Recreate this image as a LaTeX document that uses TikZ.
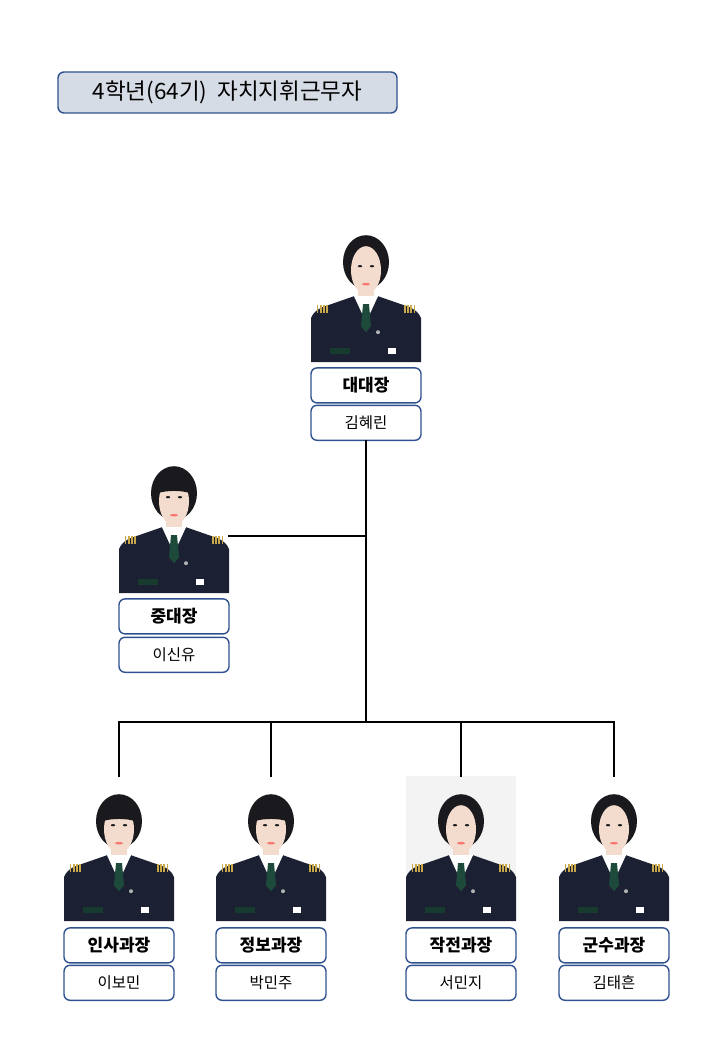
\documentclass[tikz,border=0pt]{standalone}
\usepackage{fontspec}
\setmainfont{Noto Sans CJK KR}
\usetikzlibrary{positioning}
\definecolor{boxline}{HTML}{2F528F}
\definecolor{titlefill}{HTML}{D6DCE5}
\definecolor{navy}{HTML}{1C2033}
\definecolor{skin}{HTML}{F3DCCD}
\definecolor{hair}{HTML}{1A1A1E}
\definecolor{tiegreen}{HTML}{1E4A3C}
\definecolor{braid}{HTML}{C9A94A}
\definecolor{bggray}{HTML}{F3F3F3}
\tikzset{
  titlebox/.style={draw=boxline, line width=1.4pt, rounded corners=6pt, fill=titlefill,
    minimum width=339pt, minimum height=41pt, inner sep=0pt, font=\fontsize{22.5}{26}\selectfont},
  rolebox/.style={draw=boxline, line width=1.4pt, rounded corners=6pt, fill=white,
    minimum width=110pt, minimum height=35pt, inner sep=0pt, font=\fontsize{17}{20}\selectfont\bfseries},
  namebox/.style={rolebox, font=\fontsize{15.5}{19}\selectfont},
  photo/.style={minimum width=110pt, minimum height=136pt, inner sep=0pt},
  link/.style={line width=2pt},
  cadet/.pic={
    % uniform
    \fill[navy] (-55,0) -- (-55,-44) .. controls (-52,-52) and (-45,-55) .. (-35,-58)
      -- (-12,-66) -- (12,-66) -- (35,-58) .. controls (45,-55) and (52,-52) .. (55,-44) -- (55,0) -- cycle;
    \fill[skin] (-8,-74) rectangle (8,-62);
    \fill[white] (-12,-66) -- (0,-40) -- (12,-66) -- cycle;
    \fill[tiegreen] (-3,-58) -- (3,-58) -- (5,-36) -- (0,-30) -- (-5,-36) -- cycle;
    \foreach \s in {-1,1}
      \foreach \i in {0,...,3}
        \fill[braid] ({\s*(38+3.2*\i)},-57) rectangle ++(\s*1.8,8);
    \fill[tiegreen!80!black] (-36,-14) rectangle (-16,-8);
    \fill[white] (22,-14) rectangle (30,-8);
    \fill[gray!60] (12,-30) circle (2);
    % head
    \fill[hair] (0,-100) ellipse [x radius=23, y radius=27];
    \fill[skin] (0,-92) ellipse [x radius=15, y radius=24];
    \fill[hair] (-6,-96) ellipse [x radius=2.2, y radius=1.1];
    \fill[hair] (6,-96) ellipse [x radius=2.2, y radius=1.1];
    \fill[red!45!skin] (0,-78) ellipse [x radius=4, y radius=1.3];
  },
  bangs/.pic={
    \fill[hair] (-16,-100) .. controls (-8,-103) and (8,-103) .. (16,-100) -- (16,-118) -- (-16,-118) -- cycle;
  }
}
\begin{document}
\begin{tikzpicture}[x=1pt, y=-1pt, line cap=rect]
\useasboundingbox (0,0) rectangle (720,1040);
\node[titlebox] (title) at (227.5,92.5) {4학년(64기)\ \ 자치지휘근무자};

% 대대장
\node[photo] (p0) at (366,294) {};
\node[rolebox, below=5pt of p0] (r0) {대대장};
\node[namebox, below=1pt of r0] (n0) {김혜린};
\pic at (p0.south) {cadet};

% 중대장
\node[photo] (p1) at (174,525) {};
\node[rolebox, below=5pt of p1] (r1) {중대장};
\node[namebox, below=2pt of r1] (n1) {이신유};
\pic at (p1.south) {cadet};
\pic at (p1.south) {bangs};

% 과장
\fill[bggray] (406,776) rectangle (516,921);
\foreach \q/\x/\role/\who in {q1/119/인사과장/이보민, q2/271/정보과장/박민주, q3/461/작전과장/서민지, q4/614/군수과장/김태흔}{
  \node[photo] (\q) at (\x,853) {};
  \node[rolebox, below=6pt of \q] (r\q) {\role};
  \node[namebox, below=1pt of r\q] (n\q) {\who};
  \pic at (\q.south) {cadet};
}
\pic at (q1.south) {bangs};
\pic at (q2.south) {bangs};

% connectors
\coordinate (knee) at (n0.south |- 0,536);
\coordinate (hub) at (n0.south |- 0,722);
\draw[link] (n0.south) -- (hub);
\draw[link] (knee) -- (knee -| p1.east);
\draw[link] (hub -| q1) -- (hub -| q4);
\foreach \q in {q1,q2,q3,q4}
  \draw[link] (hub -| \q) -- ++(0,54);
\end{tikzpicture}
\end{document}
